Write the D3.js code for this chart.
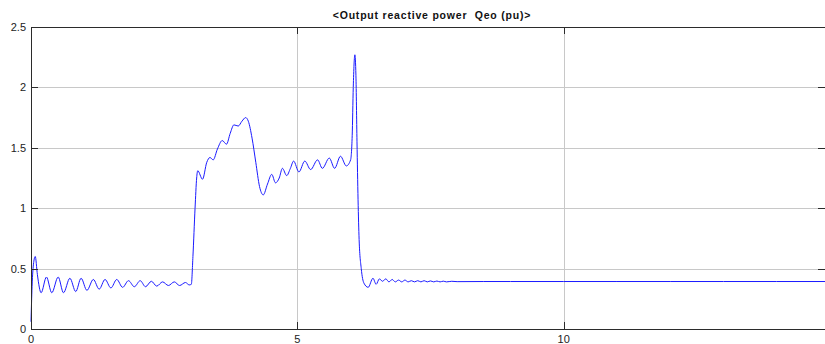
<!DOCTYPE html>
<html>
<head>
<meta charset="utf-8">
<script src="https://cdn.jsdelivr.net/npm/d3@7"></script>
<style>
  body { margin: 0; background: #fff; }
  svg { display: block; font-family: "Liberation Sans", Arial, sans-serif; }
  .grid line { stroke: #c8c8c8; stroke-width: 1; }
  .frame { fill: none; stroke: #2b2b2b; stroke-width: 1; }
  .tick-mark { stroke: #2b2b2b; stroke-width: 1; }
  .tick-label { font-size: 11px; fill: #222; }
  .title { font-size: 10.5px; font-weight: bold; fill: #111; white-space: pre; letter-spacing: 0.8px; }
</style>
</head>
<body>
<svg id="chart" width="825" height="344"></svg>
<script>
/*global d3*/

var title = "<Output reactive power  Qeo (pu)>";
var xTicks = [0, 5, 10];
var yTicks = [0, 0.5, 1, 1.5, 2, 2.5];
var yTickLabels = ["0", "0.5", "1", "1.5", "2", "2.5"];

// time (s)
var time = [
  0, 0.02, 0.05, 0.08, 0.12, 0.19, 0.29, 0.39, 0.51, 0.61, 0.73, 0.84, 0.94, 1.05,
  1.17, 1.28, 1.39, 1.50, 1.61, 1.72, 1.83, 1.94, 2.05, 2.15, 2.26, 2.36, 2.47,
  2.58, 2.69, 2.79, 2.90, 2.97, 3.01,
  3.04, 3.08, 3.11, 3.13, 3.22, 3.30, 3.36, 3.42, 3.50, 3.59, 3.67, 3.74, 3.81,
  3.89, 3.96, 4.03, 4.08, 4.15, 4.22, 4.29, 4.36, 4.44, 4.52, 4.59, 4.66, 4.72,
  4.80, 4.87, 4.93, 5.03, 5.14, 5.25, 5.38, 5.47, 5.60, 5.70, 5.81, 5.92, 6.00,
  6.03, 6.05, 6.08, 6.10, 6.12, 6.14, 6.16, 6.20, 6.25, 6.33, 6.42, 6.48, 6.54,
  6.60, 6.66, 6.72, 6.78, 6.84, 6.90, 6.96, 7.02, 7.08, 7.14, 7.20, 7.26, 7.32,
  7.38, 7.44, 7.50, 7.56, 7.62, 7.68, 7.74, 7.80, 7.90, 8.00, 8.50, 9.00, 10.0,
  11.0, 12.0, 13.0, 14.0, 15.0
];

// Qeo (pu)
var qeo = [
  0.06, 0.35, 0.55, 0.60, 0.45, 0.30, 0.43, 0.30, 0.43, 0.30, 0.42, 0.31, 0.42, 0.32,
  0.41, 0.33, 0.41, 0.34, 0.41, 0.345, 0.40, 0.35, 0.40, 0.35, 0.395, 0.355, 0.39,
  0.36, 0.39, 0.36, 0.385, 0.365, 0.37,
  0.60, 1.00, 1.25, 1.31, 1.24, 1.38, 1.42, 1.40, 1.49, 1.56, 1.53, 1.62, 1.69,
  1.68, 1.72, 1.75, 1.72, 1.58, 1.38, 1.18, 1.11, 1.20, 1.28, 1.21, 1.25, 1.33,
  1.27, 1.33, 1.39, 1.30, 1.39, 1.32, 1.40, 1.33, 1.415, 1.33, 1.43, 1.35, 1.40,
  1.60, 2.00, 2.27, 2.10, 1.55, 1.07, 0.74, 0.50, 0.38, 0.345, 0.42, 0.37, 0.415,
  0.395, 0.415, 0.39, 0.41, 0.39, 0.405, 0.39, 0.405, 0.39, 0.40, 0.39, 0.40, 0.39,
  0.40, 0.39, 0.398, 0.39, 0.397, 0.39, 0.396, 0.39, 0.395, 0.392, 0.393, 0.393, 0.393,
  0.393, 0.393, 0.393, 0.393, 0.393
];

var W = 825, H = 344,
    plotLeft = 31, plotRight = 830, plotTop = 27, plotBottom = 329,
    tickLen = 7;

var svg = d3.select("#chart");

var x = d3.scaleLinear().domain([0, 15]).range([plotLeft, plotRight]);
var y = d3.scaleLinear().domain([0, 2.5]).range([plotBottom, plotTop]);

var data = time.map(function (t, i) { return { t: t, v: qeo[i] }; });

var grid = svg.append("g").attr("class", "grid");

grid.selectAll(".gx")
    .data(xTicks.filter(function (d) { return d > 0; }))
    .enter().append("line")
    .attr("x1", function (d) { return Math.round(x(d)) + 0.5; })
    .attr("x2", function (d) { return Math.round(x(d)) + 0.5; })
    .attr("y1", plotTop)
    .attr("y2", plotBottom)
    ;

grid.selectAll(".gy")
    .data(yTicks.filter(function (d) { return d > 0 && d < 2.5; }))
    .enter().append("line")
    .attr("x1", plotLeft)
    .attr("x2", plotRight)
    .attr("y1", function (d) { return Math.round(y(d)) + 0.5; })
    .attr("y2", function (d) { return Math.round(y(d)) + 0.5; })
    ;

var line = d3.line()
    .x(function (d) { return x(d.t); })
    .y(function (d) { return y(d.v); })
    .curve(d3.curveMonotoneX);

svg.append("path")
    .datum(data)
    .attr("fill", "none")
    .attr("stroke", "#1a1aff")
    .attr("stroke-width", 1)
    .attr("d", line);

// frame
svg.append("rect")
    .attr("class", "frame")
    .attr("x", plotLeft + 0.5)
    .attr("y", plotTop + 0.5)
    .attr("width", plotRight - plotLeft)
    .attr("height", plotBottom - plotTop);

// inward ticks, matlab style
var ticks = svg.append("g");

xTicks.forEach(function (d) {
  var px = Math.round(x(d)) + 0.5;
  ticks.append("line").attr("class", "tick-mark")
      .attr("x1", px).attr("x2", px)
      .attr("y1", plotBottom).attr("y2", plotBottom - tickLen);
  ticks.append("line").attr("class", "tick-mark")
      .attr("x1", px).attr("x2", px)
      .attr("y1", plotTop).attr("y2", plotTop + tickLen);
});

yTicks.forEach(function (d) {
  var py = Math.round(y(d)) + 0.5;
  ticks.append("line").attr("class", "tick-mark")
      .attr("x1", plotLeft).attr("x2", plotLeft + tickLen)
      .attr("y1", py).attr("y2", py);
  ticks.append("line").attr("class", "tick-mark")
      .attr("x1", W - tickLen).attr("x2", W)
      .attr("y1", py).attr("y2", py);
});

svg.selectAll(".xlab")
    .data(xTicks)
    .enter().append("text")
    .attr("class", "tick-label")
    .attr("x", function (d) { return x(d); })
    .attr("y", 343)
    .attr("text-anchor", "middle")
    .text(function (d) { return d; });

svg.selectAll(".ylab")
    .data(yTicks)
    .enter().append("text")
    .attr("class", "tick-label")
    .attr("x", 26)
    .attr("y", function (d) { return y(d) + 4; })
    .attr("text-anchor", "end")
    .text(function (d, i) { return yTickLabels[i]; });

svg.append("text")
    .attr("class", "title")
    .attr("x", 432)
    .attr("y", 19)
    .attr("text-anchor", "middle")
    .text(title);
</script>
</body>
</html>
